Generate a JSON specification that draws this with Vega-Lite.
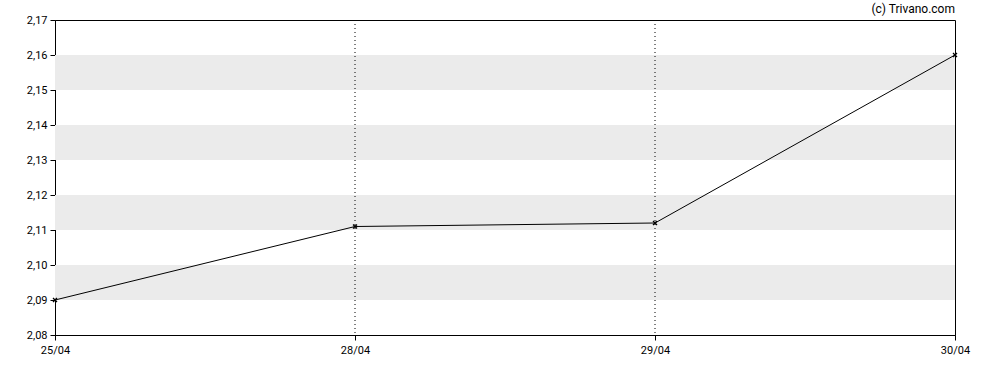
{
  "$schema": "https://vega.github.io/schema/vega-lite/v6.json",
  "width": 900,
  "height": 315,
  "autosize": {"type": "none"},
  "padding": {"left": 55, "top": 20, "right": 33, "bottom": 35},
  "background": "white",
  "config": {
    "font": "Roboto",
    "view": {"stroke": "black", "strokeWidth": 1},
    "axis": {"labelFont": "Roboto", "labelFontSize": 11, "labelColor": "#000", "domainColor": "#000", "tickColor": "#000", "grid": false, "ticks": true, "tickSize": 5, "labelOverlap": false, "labelFlush": false}
  },
  "title": {"text": "(c) Trivano.com", "anchor": "end", "frame": "group", "fontSize": 12, "fontWeight": "normal", "font": "Roboto", "color": "#000", "offset": -2},
  "datasets": {
    "prices": [
      {"date": "25/04", "price": 2.09},
      {"date": "28/04", "price": 2.111},
      {"date": "29/04", "price": 2.112},
      {"date": "30/04", "price": 2.16}
    ],
    "bands": [
      {"lo": 2.09, "hi": 2.10},
      {"lo": 2.11, "hi": 2.12},
      {"lo": 2.13, "hi": 2.14},
      {"lo": 2.15, "hi": 2.16}
    ],
    "vlines": [
      {"date": "28/04"},
      {"date": "29/04"}
    ]
  },
  "layer": [
    {
      "data": {"name": "bands"},
      "mark": {"type": "rect", "color": "#ebebeb"},
      "encoding": {
        "y": {"field": "lo", "type": "quantitative", "scale": {"domain": [2.08, 2.17], "nice": false, "zero": false}, "axis": {"title": null, "values": [2.08, 2.09, 2.10, 2.11, 2.12, 2.13, 2.14, 2.15, 2.16, 2.17], "labelExpr": "replace(format(datum.value, '.2f'), '.', ',')", "labelPadding": 3, "labelOverlap": false, "labelFlush": false}},
        "y2": {"field": "hi"}
      }
    },
    {
      "data": {"name": "vlines"},
      "mark": {"type": "rule", "color": "#000", "strokeDash": [1, 3], "strokeWidth": 1},
      "encoding": {
        "x": {"field": "date", "type": "ordinal", "scale": {"type": "point", "padding": 0, "domain": ["25/04", "28/04", "29/04", "30/04"]}, "axis": {"title": null, "labelAngle": 0, "labelAlign": "center", "labelPadding": 4, "labelOverlap": false, "labelFlush": false}}
      }
    },
    {
      "data": {"name": "prices"},
      "mark": {"type": "line", "color": "#000", "strokeWidth": 1, "point": {"shape": "M-1,-1L1,1M-1,1L1,-1", "size": 16, "stroke": "#000", "strokeWidth": 1.3, "filled": false}},
      "encoding": {
        "x": {"field": "date", "type": "ordinal", "scale": {"type": "point", "padding": 0, "domain": ["25/04", "28/04", "29/04", "30/04"]}, "axis": {"title": null, "labelAngle": 0, "labelAlign": "center", "labelPadding": 4, "labelOverlap": false, "labelFlush": false}},
        "y": {"field": "price", "type": "quantitative", "scale": {"domain": [2.08, 2.17], "nice": false, "zero": false}, "axis": {"title": null, "values": [2.08, 2.09, 2.10, 2.11, 2.12, 2.13, 2.14, 2.15, 2.16, 2.17], "labelExpr": "replace(format(datum.value, '.2f'), '.', ',')", "labelPadding": 3, "labelOverlap": false, "labelFlush": false}}
      }
    }
  ]
}
